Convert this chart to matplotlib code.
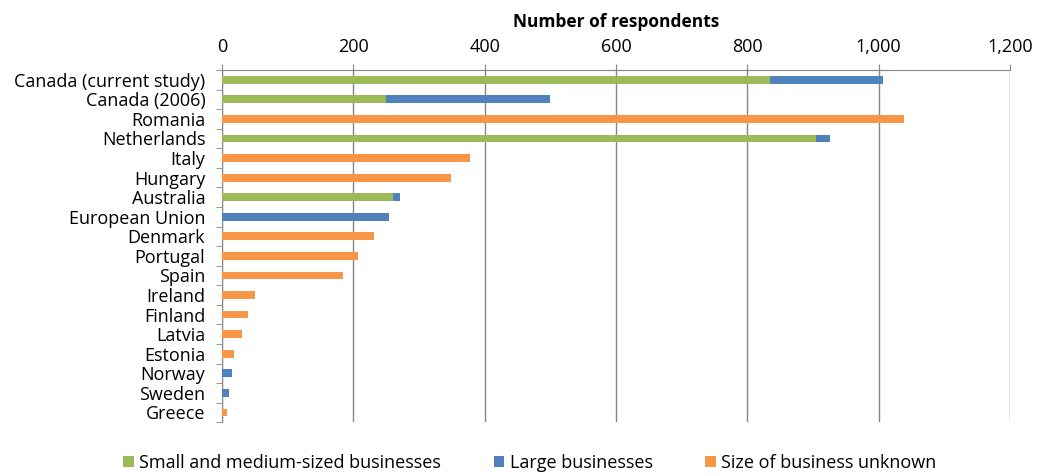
import matplotlib.pyplot as plt
import numpy as np

countries = ["Canada (current study)", "Canada (2006)", "Romania", "Netherlands",
             "Italy", "Hungary", "Australia", "European Union", "Denmark",
             "Portugal", "Spain", "Ireland", "Finland", "Latvia", "Estonia",
             "Norway", "Sweden", "Greece"]
sme = [835, 250, 0, 904, 0, 0, 261, 0, 0, 0, 0, 0, 0, 0, 0, 0, 0, 0]
large = [171, 250, 0, 22, 0, 0, 10, 254, 0, 0, 0, 0, 0, 0, 0, 16, 11, 0]
unknown = [0, 0, 1038, 0, 377, 349, 0, 0, 232, 207, 184, 51, 40, 30, 18, 0, 0, 7]
xticks = [0, 200, 400, 600, 800, 1000, 1200]

plt.rcParams['font.family'] = ['Open Sans', 'DejaVu Sans']

fig = plt.figure(figsize=(10.37, 4.76), dpi=100)
ax = fig.add_axes([0.214, 0.113, 0.760, 0.740])

y = np.arange(len(countries))
sme = np.array(sme)
large = np.array(large)
unknown = np.array(unknown)
h = 0.4
ax.barh(y, sme, height=h, color='#9BBB59', label='Small and medium-sized businesses', zorder=3)
ax.barh(y, large, height=h, left=sme, color='#4F81BD', label='Large businesses', zorder=3)
ax.barh(y, unknown, height=h, left=sme + large, color='#F79646', label='Size of business unknown', zorder=3)

ax.set_ylim(len(countries) - 0.5, -0.5)
ax.set_xlim(0, 1200)
ax.set_yticks(y)
ax.set_yticklabels(countries, fontsize=13)
ax.set_yticks(np.arange(len(countries) + 1) - 0.5, minor=True)
ax.tick_params(axis='y', which='major', length=0, pad=12)
ax.tick_params(axis='y', which='minor', length=4, color='#868686')

ax.xaxis.tick_top()
ax.xaxis.set_label_position('top')
ax.set_xticks(xticks)
ax.set_xticklabels([f"{v:,}" for v in xticks], fontsize=13)
ax.tick_params(axis='x', length=4, color='#868686', pad=6)
ax.set_xlabel('Number of respondents', fontsize=12.5, fontweight='bold', labelpad=8)

ax.grid(axis='x', color='#868686', linewidth=1, zorder=0)
for s in ['right', 'bottom']:
    ax.spines[s].set_visible(False)
for s in ['top', 'left']:
    ax.spines[s].set_color('#868686')

ax.legend(loc='center', bbox_to_anchor=(0.511, 0.028), bbox_transform=fig.transFigure,
          ncol=3, frameon=False, fontsize=13, handlelength=0.6, handleheight=0.6,
          handletextpad=0.3, columnspacing=2.9)

fig.savefig('out.png', dpi=100)
